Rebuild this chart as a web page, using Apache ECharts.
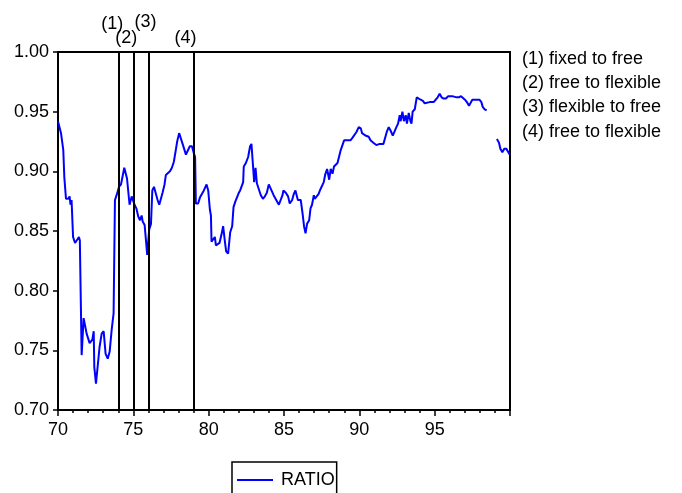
<!DOCTYPE html>
<html>
<head>
<meta charset="utf-8">
<script src="https://cdn.jsdelivr.net/npm/echarts@6/dist/echarts.min.js"></script>
<style>
html,body{margin:0;padding:0;background:#fff;}
#chart{width:682px;height:493px;}
</style>
</head>
<body>
<div id="chart"></div>
<script>
// ---- data ----
var seriesName = 'RATIO';
var years = [
70.0,70.2,70.35,70.42,70.53,70.68,70.77,70.83,70.9,71.0,71.13,71.24,71.39,71.45,71.57,71.70,71.83,71.90,72.1,72.28,
72.37,72.41,72.52,72.63,72.76,72.9,73.03,73.16,73.3,73.43,73.56,73.69,73.78,73.89,74.05,74.18,74.4,74.58,74.75,74.89,
75.08,75.2,75.33,75.44,75.55,75.62,75.75,75.84,75.92,76.05,76.17,76.26,76.37,76.5,76.61,76.72,76.83,76.94,77.07,77.16,
77.29,77.43,77.56,77.69,77.82,77.91,78.04,78.16,78.27,78.38,78.49,78.62,78.75,78.89,79.02,79.1,79.15,79.3,79.42,79.53,
79.68,79.86,79.97,80.08,80.15,80.19,80.3,80.41,80.48,80.59,80.72,80.85,80.96,81.07,81.16,81.29,81.38,81.43,81.56,81.65,
81.78,81.89,82.0,82.09,82.18,82.29,82.33,82.47,82.62,82.75,82.84,82.93,83.02,83.11,83.2,83.33,83.46,83.6,83.73,83.86,
83.99,84.08,84.17,84.31,84.44,84.53,84.66,84.79,84.9,84.96,85.05,85.12,85.27,85.38,85.54,85.65,85.76,85.87,85.92,86.0,
86.11,86.23,86.33,86.43,86.53,86.67,86.76,86.86,86.98,87.04,87.15,87.29,87.42,87.55,87.64,87.73,87.86,88.0,88.1,88.22,
88.32,88.43,88.55,88.65,88.77,88.88,88.99,89.15,89.28,89.41,89.54,89.67,89.81,89.96,90.1,90.18,90.29,90.4,90.51,90.62,
90.74,90.84,90.93,91.02,91.13,91.24,91.35,91.46,91.6,91.71,91.82,91.95,92.08,92.22,92.35,92.46,92.57,92.68,92.74,92.86,
92.96,93.08,93.16,93.28,93.39,93.46,93.54,93.68,93.81,93.94,94.07,94.22,94.34,94.45,94.67,94.93,95.07,95.2,95.33,95.46,
95.6,95.75,95.9,96.03,96.17,96.3,96.45,96.61,96.75,96.88,97.01,97.14,97.28,97.37,97.5,97.65,97.8,97.97,98.1,98.19,
98.32,98.45,98.8,99.13,99.27,99.36,99.49,99.62,99.76,99.89,99.98
];
var ratio = [
0.942,0.932,0.918,0.895,0.877,0.877,0.879,0.872,0.876,0.845,0.840,0.840,0.845,0.842,0.746,0.777,0.777,0.764,0.756,0.759,
0.766,0.736,0.722,0.722,0.753,0.764,0.766,0.747,0.743,0.749,0.767,0.781,0.876,0.880,0.887,0.889,0.903,0.894,0.872,0.879,
0.872,0.869,0.862,0.859,0.863,0.858,0.855,0.842,0.830,0.851,0.856,0.884,0.887,0.886,0.876,0.872,0.873,0.882,0.889,0.897,
0.898,0.900,0.903,0.908,0.918,0.925,0.932,0.931,0.923,0.922,0.914,0.914,0.921,0.921,0.915,0.912,0.873,0.873,0.878,0.877,
0.884,0.889,0.884,0.868,0.863,0.841,0.842,0.845,0.838,0.837,0.840,0.847,0.854,0.842,0.833,0.831,0.831,0.849,0.854,0.870,
0.875,0.876,0.882,0.884,0.884,0.891,0.904,0.907,0.912,0.921,0.923,0.907,0.891,0.903,0.890,0.891,0.880,0.877,0.879,0.882,
0.889,0.889,0.884,0.880,0.879,0.875,0.872,0.873,0.880,0.884,0.885,0.882,0.879,0.873,0.876,0.881,0.884,0.885,0.876,0.877,
0.876,0.865,0.854,0.848,0.856,0.859,0.869,0.872,0.880,0.877,0.878,0.881,0.885,0.885,0.891,0.897,0.902,0.893,0.902,0.898,
0.904,0.903,0.907,0.912,0.918,0.922,0.926,0.926,0.925,0.926,0.928,0.929,0.933,0.937,0.936,0.932,0.932,0.930,0.931,0.929,
0.926,0.927,0.924,0.925,0.922,0.923,0.923,0.924,0.923,0.924,0.933,0.937,0.934,0.930,0.930,0.937,0.940,0.947,0.942,0.950,
0.942,0.947,0.940,0.949,0.942,0.940,0.950,0.952,0.962,0.961,0.960,0.959,0.957,0.958,0.958,0.958,0.960,0.962,0.965,0.962,
0.961,0.961,0.963,0.962,0.963,0.962,0.962,0.962,0.963,0.962,0.960,0.958,0.955,0.957,0.960,0.960,0.960,0.960,0.958,0.954,
0.952,0.951,null,0.927,0.924,0.919,0.916,0.919,0.919,0.916,0.914
];
var breakDates = [74, 75, 76, 79];
var breakLabels = ['(1)', '(2)', '(3)', '(4)'];
var breakNotes = ['(1) fixed to free', '(2) free to flexible', '(3) flexible to free', '(4) free to flexible'];
var xMin = 70, xMax = 100, xStep = 5;
var yMin = 0.70, yMax = 1.00, yStep = 0.05;

// ---- styling ----
var FONT = '"Liberation Sans", Arial, sans-serif';
var labelOffsets = [[-6, -16], [-7, -2], [-3, -18], [-8, -2]];
var noteTops = [50, 74, 98, 123];

var chart = echarts.init(document.getElementById('chart'), null, {renderer: 'canvas'});

var lineData = years.map(function (y, i) {
  return [y, ratio[i] === null ? '-' : ratio[i]];
});

var option = {
  animation: false,
  backgroundColor: '#fff',
  grid: {
    left: 58, right: 172, top: 52, bottom: 83,
    show: true, borderColor: '#000', borderWidth: 2, backgroundColor: 'transparent'
  },
  xAxis: {
    type: 'value', min: xMin, max: xMax, interval: xStep,
    axisLine: {show: true, onZero: false, lineStyle: {color: '#000', width: 2}},
    axisTick: {show: true, inside: false, length: 6, lineStyle: {color: '#000', width: 1.5}},
    minorTick: {show: true, splitNumber: 5, length: 3, lineStyle: {color: '#000', width: 1.5}},
    splitLine: {show: false},
    axisLabel: {
      color: '#000', fontFamily: FONT, fontSize: 18, margin: 11,
      showMaxLabel: false,
      formatter: function (v) { return v >= xMax ? '' : String(v); }
    }
  },
  yAxis: {
    type: 'value', min: yMin, max: yMax, interval: yStep,
    axisLine: {show: true, onZero: false, lineStyle: {color: '#000', width: 2}},
    axisTick: {show: true, inside: false, length: 5, lineStyle: {color: '#000', width: 1.5}},
    splitLine: {show: false},
    axisLabel: {
      color: '#000', fontFamily: FONT, fontSize: 18, margin: 9,
      formatter: function (v) { return v.toFixed(2); }
    }
  },
  legend: {
    left: 232, top: 462,
    data: [{name: seriesName, icon: 'rect'}],
    orient: 'horizontal',
    borderColor: '#000', borderWidth: 1.5, borderRadius: 0,
    padding: [9, 2, 12, 5],
    itemWidth: 36, itemHeight: 2,
    itemStyle: {color: '#0000ff', borderWidth: 0},
    textStyle: {color: '#000', fontFamily: FONT, fontSize: 18, padding: [0, 0, 0, 3]}
  },
  graphic: breakNotes.map(function (t, i) {
    return {
      type: 'text', left: 522, top: noteTops[i],
      style: {text: t, fill: '#000', font: '18px ' + FONT}
    };
  }),
  series: [{
    name: seriesName,
    type: 'line',
    data: lineData,
    symbol: 'none',
    showSymbol: false,
    connectNulls: false,
    lineStyle: {color: '#0000ff', width: 2},
    itemStyle: {color: '#0000ff'},
    markLine: {
      silent: true,
      symbol: ['none', 'none'],
      animation: false,
      lineStyle: {color: '#000', width: 2, type: 'solid'},
      label: {show: true, position: 'end', color: '#000', fontFamily: FONT, fontSize: 18, distance: 3},
      emphasis: {disabled: true},
      data: breakDates.map(function (d, i) {
        return {xAxis: d, label: {formatter: breakLabels[i], offset: labelOffsets[i]}};
      })
    }
  }]
};
chart.setOption(option);
</script>
</body>
</html>
